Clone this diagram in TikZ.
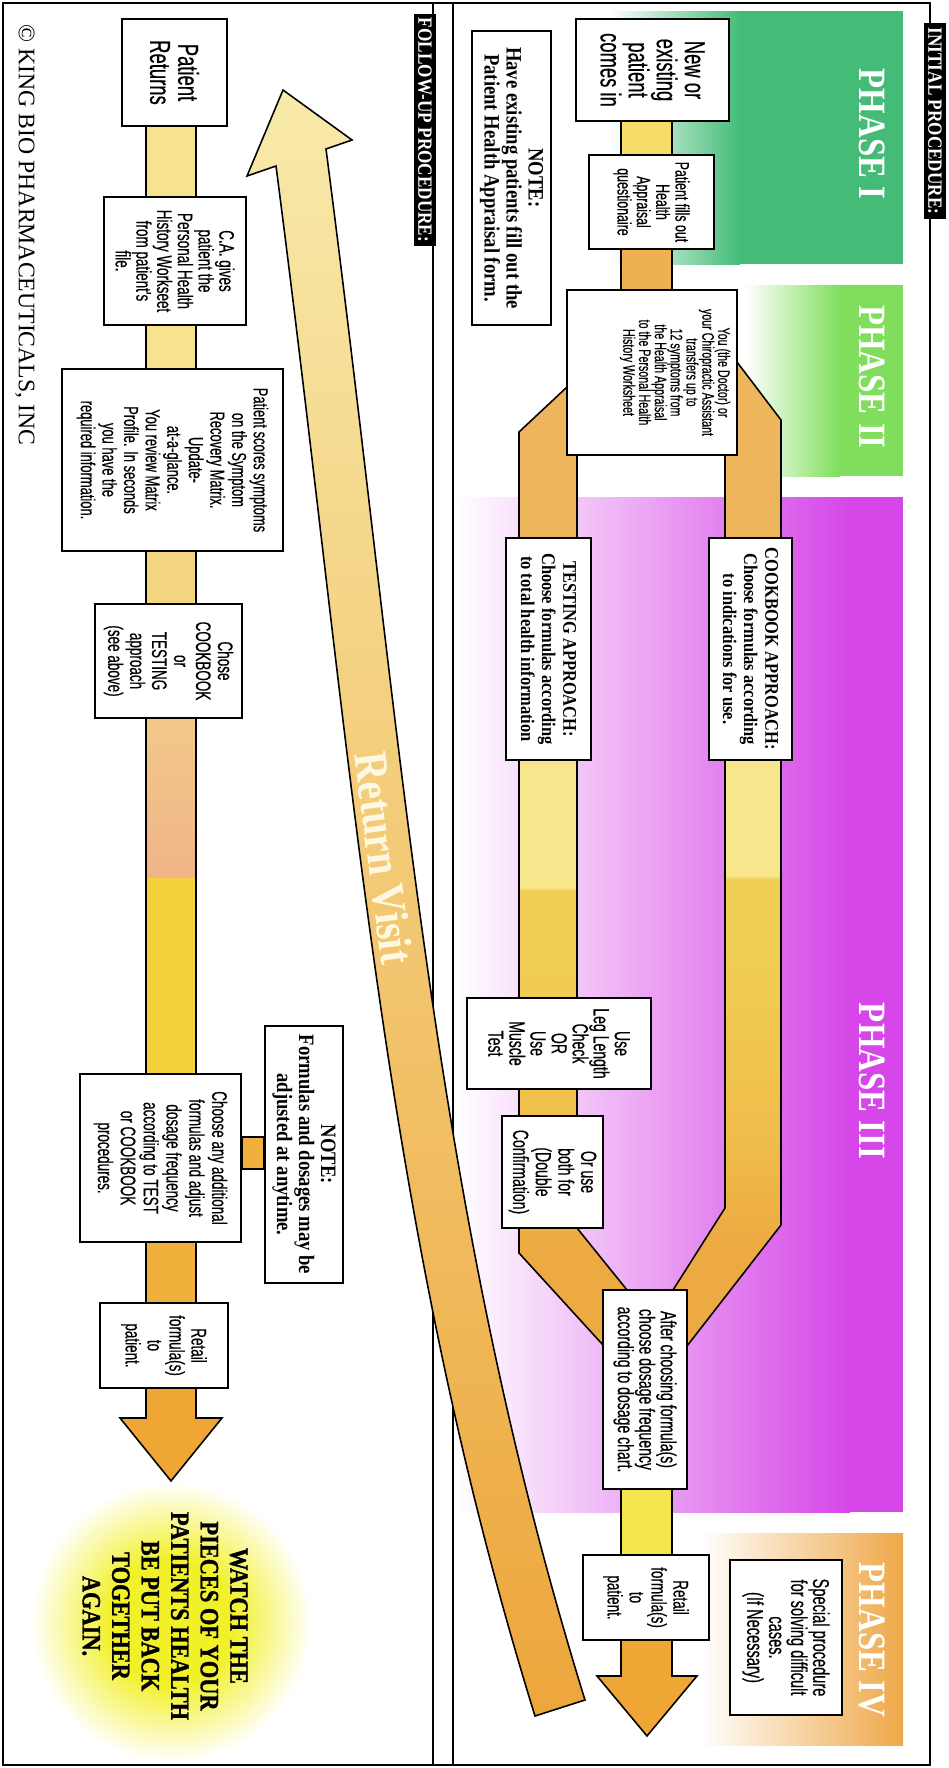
\documentclass[tikz,border=0pt]{standalone}
\usepackage{fontspec}
\setmainfont{Liberation Serif}
\newfontfamily\cnd[FakeStretch=0.64, FakeBold=0.4]{Liberation Sans}
\newfontfamily\cnds[FakeStretch=0.85]{Liberation Serif}
\newfontfamily\heavy[FakeStretch=0.85, FakeBold=1.2]{Liberation Serif}
\usetikzlibrary{calc,backgrounds}
\definecolor{phgreen}{RGB}{68,188,120}
\definecolor{phlime}{RGB}{128,222,92}
\definecolor{phmag}{RGB}{214,70,232}
\definecolor{phorange}{RGB}{238,168,72}
\definecolor{phpale}{RGB}{248,224,150}
\definecolor{spyel}{RGB}{247,226,142}
\definecolor{sppale}{RGB}{244,214,130}
\definecolor{sppeachA}{RGB}{243,200,138}
\definecolor{sppeachB}{RGB}{240,180,136}
\definecolor{spgold}{RGB}{243,210,62}
\definecolor{spora}{RGB}{239,176,60}
\definecolor{arora}{RGB}{239,166,52}
\definecolor{inyel}{RGB}{246,220,104}
\definecolor{inora}{RGB}{238,176,80}
\definecolor{inbright}{RGB}{245,230,80}
\definecolor{brora}{RGB}{237,170,66}
\definecolor{brmid}{RGB}{239,190,74}
\definecolor{brdark}{RGB}{241,206,84}
\definecolor{brlight}{RGB}{247,230,140}
\definecolor{brtan}{RGB}{238,182,92}
\definecolor{rvtop}{RGB}{248,234,170}
\definecolor{rvmid}{RGB}{243,204,108}
\definecolor{rvbot}{RGB}{237,166,60}
\definecolor{rvtext}{RGB}{255,248,225}
\definecolor{glowy}{RGB}{242,240,40}
\pgfdeclareverticalshading{branchshade}{100bp}{color(0bp)=(brora); color(25bp)=(brora); color(30bp)=(brora); color(36bp)=(brmid); color(45bp)=(brdark); color(48.7bp)=(brdark); color(48.9bp)=(brlight); color(55bp)=(brlight); color(64bp)=(brtan); color(100bp)=(brtan)}
\pgfdeclareradialshading{glowshade}{\pgfpointorigin}{color(0bp)=(glowy); color(11bp)=(glowy); color(25bp)=(white); color(50bp)=(white)}

\begin{document}
\begin{tikzpicture}[x=0.02cm, y=0.02cm,
	box/.style={draw, fill=white, line width=1.1pt, rotate=-90, align=center, inner sep=1pt},
	sz/.style 2 args={minimum width=#1*0.02cm, minimum height=#2*0.02cm},
	fs/.style 2 args={font=\cnd\fontsize{#1}{#2}\selectfont},
	fb/.style 2 args={font=\cnds\bfseries\fontsize{#1}{#2}\selectfont},
	band/.style={line width=0.9pt},
	tag/.style={fill=black, text=white, rotate=-90, inner sep=2.5pt, font=\cnds\bfseries\fontsize{11.5}{12}\selectfont},
	phase/.style={text=white, rotate=-90, font=\cnds\bfseries\fontsize{22}{22}\selectfont}]
	
	\useasboundingbox (0,0) rectangle (948,-1768);
	
	\node[tag] (init) at (935,-121) {INITIAL PROCEDURE:};
	\node[tag] (foll) at (425,-130) {FOLLOW-UP PROCEDURE:};
	\node[rotate=-90, font=\rmfamily\fontsize{13.5}{14}\selectfont] (copy) at (25,-235) {\textcopyright{} KING BIO PHARMACEUTICALS, INC};
	
	\node[box, sz={107}{105}, fs={16.4}{16}] (ret) at (174.5,-72.5) {Patient\\Returns};
	\node[box, sz={128}{142}, fs={12}{11.8}] (ca) at (175,-261) {C.A. gives\\patient the\\Personal Health\\History Workseet\\from patient's\\file.};
	\node[box, sz={182}{221}, fs={11.5}{12.3}] (score) at (172.5,-460) {Patient scores symptoms\\on the Symptom\\Recovery Matrix.\\Update-\\at-a-glance.\\You review Matrix\\Profile. In seconds\\you have the\\required information.};
	\node[box, sz={114}{147}, fs={12}{12.5}] (chose) at (168.5,-661) {Chose\\COOKBOOK\\or\\TESTING\\approach\\(see above)};
	\node[box, sz={168}{161}, fs={12}{13}] (anyf) at (160.5,-1158) {Choose any additional\\formulas and adjust\\dosage frequency\\according to TEST\\or COOKBOOK\\procedures.};
	\node[box, sz={257}{78}, fb={12.5}{12.5}] (note2) at (304,-1154.5) {NOTE:\\Formulas and dosages may be\\adjusted at anytime.};
	\node[box, sz={85}{128}, fs={12}{12.5}] (retf) at (164,-1345.5) {Retail\\formula(s)\\to\\patient.};
	\node[rotate=-90, align=center, font=\heavy\bfseries\fontsize{15}{16.8}\selectfont] (watch) at (165,-1616) {WATCH THE\\PIECES OF YOUR\\PATIENTS HEALTH\\BE PUT BACK\\TOGETHER\\AGAIN.};
	
	\node[box, sz={102}{153}, fs={16.4}{16}] (new) at (652.5,-70) {New or\\existing\\patient\\comes in};
	\node[box, sz={94}{125}, fs={11}{11}] (fills) at (651.5,-202) {Patient fills out\\Health\\Appraisal\\questionaire};
	\node[box, sz={165}{170}] (you) at (652,-372.5) {};
	\node[rotate=-90, align=center, fs={9.5}{9}] (youtxt) at (675,-372.5) {You (the Doctor) or\\your Chiropractic Assistant\\transfers up to\\12 symptoms from\\the Health Appraisal\\to the Personal Health\\History Worksheet};
	\node[box, sz={294}{79}, fb={12.5}{12.5}] (note1) at (511.5,-178) {NOTE:\\Have existing patients fill out the\\Patient Health Appraisal form.};
	\node[box, sz={222}{83}, fb={11}{12}] (cook) at (750.5,-649) {COOKBOOK APPROACH:\\Choose formulas according\\to indications for use.};
	\node[box, sz={222}{85}, fb={11}{12}] (test) at (548.5,-649) {TESTING APPROACH:\\Choose formulas according\\to total health information};
	\node[box, sz={91}{184}, fs={12.5}{12}] (leg) at (559,-1043.5) {Use\\Leg Length\\Check\\OR\\Use\\Muscle\\Test};
	\node[box, sz={112}{101}, fs={12.5}{12.9}] (both) at (552.5,-1172) {Or use\\both for\\(Double\\Confirmation)};
	\node[box, sz={199}{84}, fs={12.5}{12.2}] (after) at (645,-1389.5) {After choosing formula(s)\\choose dosage frequency\\according to dosage chart.};
	\node[box, sz={85}{126}, fs={12}{12.5}] (reti) at (646,-1597.5) {Retail\\formula(s)\\to\\patient.};
	\node[box, sz={155}{112}, fs={13}{12.5}] (spec) at (786,-1637.5) {Special procedure\\for solving difficult\\cases.\\(If Necessary)};
	
	\node[phase] (p1) at (872,-134) {PHASE I};
	\node[phase] (p2) at (872,-377) {PHASE II};
	\node[phase] (p3) at (872,-1081) {PHASE III};
	\node[phase] (p4) at (872,-1640) {PHASE IV};
	\node[rotate=-82.5, text=rvtext, font=\cnds\bfseries\fontsize{27}{27}\selectfont] (rv) at (384,-858) {Return Visit};
	
	\begin{scope}[on background layer]
		\shade[shading=glowshade] (171,-1622) circle (140);
		\shade[left color=white, right color=phgreen] (610,-11) rectangle (740,-264);
		\fill[phgreen] (740,-11) rectangle (903,-264);
		\shade[left color=white, right color=phlime] (745,-285) rectangle (840,-476);
		\fill[phlime] (840,-285) rectangle (903,-476);
		\shade[left color=white, middle color=phmag!35, right color=phmag] (455,-497) rectangle (850,-1512);
		\fill[phmag] (850,-497) rectangle (903,-1512);
		\shade[left color=white, middle color=phpale, right color=phorange] (700,-1533) rectangle (903,-1745);
		
		\draw[line width=1.2pt] (3,-3) rectangle (930,-1765);
		\draw[line width=1.2pt] (433,-3) -- (433,-1765) (453,-3) -- (453,-1765);
		
		\coordinate (fl) at (146,0);
		\coordinate (fr) at (196,0);
		\coordinate (il) at (621,0);
		\coordinate (ir) at (672,0);
		\coordinate (cut) at (0,-878);
		
		\foreach \a/\b/\c in {ret/ca/spyel, ca/score/spyel, score/chose/sppale, anyf/retf/spora}{
			\fill[\c] (\a.east -| fl) rectangle (\b.west -| fr);
			\draw[band] (\a.east -| fl) -- (\b.west -| fl) (\a.east -| fr) -- (\b.west -| fr);
		}
		\shade[top color=sppeachA, bottom color=sppeachB] (chose.east -| fl) rectangle (cut -| fr);
		\fill[spgold] (cut -| fl) rectangle (anyf.west -| fr);
		\draw[band] (chose.east -| fl) -- (anyf.west -| fl) (chose.east -| fr) -- (anyf.west -| fr);
		\filldraw[band, fill=spora] ($(anyf.north)+(0,21)$) rectangle ($(note2.south)+(0,-14.5)$);
		\filldraw[band, fill=arora] (retf.east -| fl) -- ++(0,-29) -- ++(-26,0) -- ++(51,-63) -- ++(51,63) -- ++(-26,0) -- ++(0,29);
		
		\foreach \a/\b/\c in {new/fills/inyel, fills/you/inora, after/reti/inbright}{
			\fill[\c] (\a.east -| il) rectangle (\b.west -| ir);
			\draw[band] (\a.east -| il) -- (\b.west -| il) (\a.east -| ir) -- (\b.west -| ir);
		}
		\shadedraw[band, shading=branchshade] (737,-362) -- (781,-420) -- (781,-1225) -- (687,-1346) -- (673,-1290) -- (725,-1208) -- (725,-455) -- cycle;
		\shadedraw[band, shading=branchshade] (567,-387) -- (519,-432) -- (519,-1253) -- (603,-1345) -- (627,-1290) -- (577,-1228) -- (577,-455) -- cycle;
		\filldraw[band, fill=arora] (reti.east -| il) -- ++(0,-35) -- ++(-24,0) -- ++(50,-60) -- ++(50,60) -- ++(-25,0) -- ++(0,35);
		
		\draw[band, top color=rvtop, middle color=rvmid, bottom color=rvbot] (535,-1716) .. controls (380,-1216) and (354,-766) .. (276,-166) -- (247,-176) -- (283,-90) -- (352,-140) -- (326,-149) .. controls (404,-749) and (430,-1200) .. (585,-1700) -- cycle;
	\end{scope}
\end{tikzpicture}
\end{document}
